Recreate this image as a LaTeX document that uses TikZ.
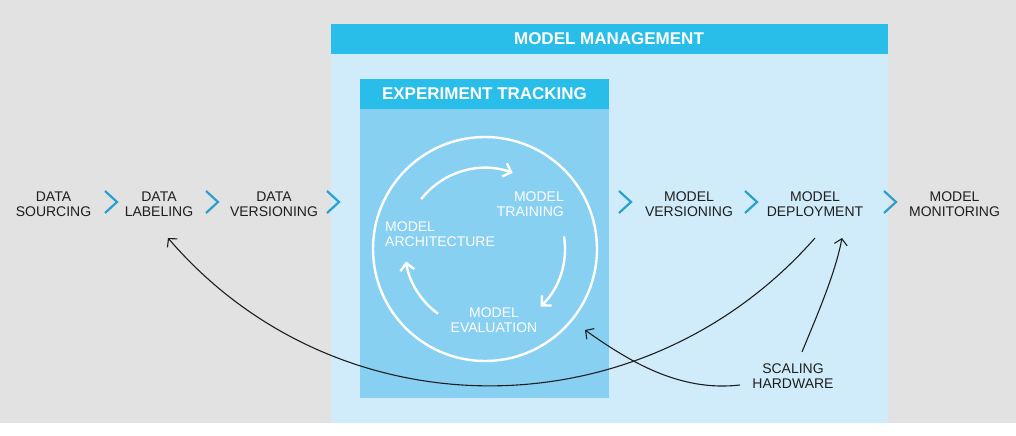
\documentclass[tikz,border=0pt]{standalone}
\usepackage{fontspec}
\setmainfont{Liberation Sans}
\usepackage{xcolor}
\usepackage{tikz}
\usetikzlibrary{arrows.meta}

\definecolor{bggray}{RGB}{227,226,227}
\definecolor{mgmtblue}{RGB}{41,189,233}
\definecolor{mgmtlight}{RGB}{208,236,250}
\definecolor{trackblue}{RGB}{136,208,242}
\definecolor{chevblue}{RGB}{42,160,205}
\definecolor{inkdark}{RGB}{30,30,30}

\tikzset{
  stage/.style={align=center, text=inkdark, inner sep=2pt, font=\fontsize{14}{15}\selectfont},
  cyclelabel/.style={text=white, inner sep=2pt, font=\fontsize{14}{15}\selectfont},
  boxtitle/.style={text=white, font=\fontsize{17}{17}\bfseries\selectfont},
  chevron/.style={chevblue, line width=2.2pt},
  cyclearrow/.style={white, line width=2.4pt, -{Straight Barb[length=7pt,width=14pt]}},
  feedback/.style={inkdark, line width=1.1pt, -{Straight Barb[length=6pt,width=13pt]}}
}

\begin{document}
\begin{tikzpicture}[x=1pt,y=1pt]
    \fill[bggray] (0,0) rectangle (1016,-423);
    \fill[mgmtlight] (331,-24) rectangle (888,-423);
    \fill[mgmtblue] (331,-24) rectangle (888,-54);
    \fill[trackblue] (360,-79) rectangle (609,-398);
    \fill[mgmtblue] (360,-79) rectangle (609,-109);

    \node[boxtitle] (mgmt) at (609,-39) {MODEL MANAGEMENT};
    \node[boxtitle] (track) at (484.5,-94) {EXPERIMENT TRACKING};

    \node[stage] (ds) at (53.5,-204) {DATA\\SOURCING};
    \node[stage] (dl) at (159,-204) {DATA\\LABELING};
    \node[stage] (dv) at (274,-204) {DATA\\VERSIONING};
    \node[stage] (mv) at (689,-204) {MODEL\\VERSIONING};
    \node[stage] (md) at (815,-204) {MODEL\\DEPLOYMENT};
    \node[stage] (mm) at (954.5,-204) {MODEL\\MONITORING};
    \node[stage] (sh) at (793,-376) {SCALING\\HARDWARE};

    \foreach \cx in {111,212,333,625,751,890}
        \draw[chevron] (\cx-6,-191) -- (\cx+6,-202) -- (\cx-6,-213);

    \coordinate (cyc) at (485,-249);
    \draw[white, line width=2.4pt] (cyc) circle (112pt);
    \node[cyclelabel, align=right, anchor=east] (mt) at (566,-204.5) {MODEL\\TRAINING};
    \node[cyclelabel, align=left, anchor=west] (ma) at (383,-234.5) {MODEL\\ARCHITECTURE};
    \node[cyclelabel, align=center] (me) at (494,-320) {MODEL\\EVALUATION};
    \draw[cyclearrow] ([shift={(142:81pt)}]cyc) arc[start angle=142, end angle=70, radius=81pt];
    \draw[cyclearrow] ([shift={(9:80pt)}]cyc) arc[start angle=9, end angle=-46, radius=80pt];
    \draw[cyclearrow] ([shift={(234:80pt)}]cyc) arc[start angle=234, end angle=189, radius=80pt];

    \draw[feedback] ([yshift=-34pt]md.center) .. controls (642,-435) and (337,-435) .. ([shift={(9pt,-34pt)}]dl.center);
    \draw[feedback] ([shift={(-53pt,-9pt)}]sh.center) .. controls (680,-392) and (630,-362) .. ([shift={(91pt,-10pt)}]me.center);
    \draw[feedback] ([shift={(9pt,24pt)}]sh.center) .. controls (815,-320) and (835,-275) .. ([shift={(27pt,-34pt)}]md.center);
\end{tikzpicture}
\end{document}
